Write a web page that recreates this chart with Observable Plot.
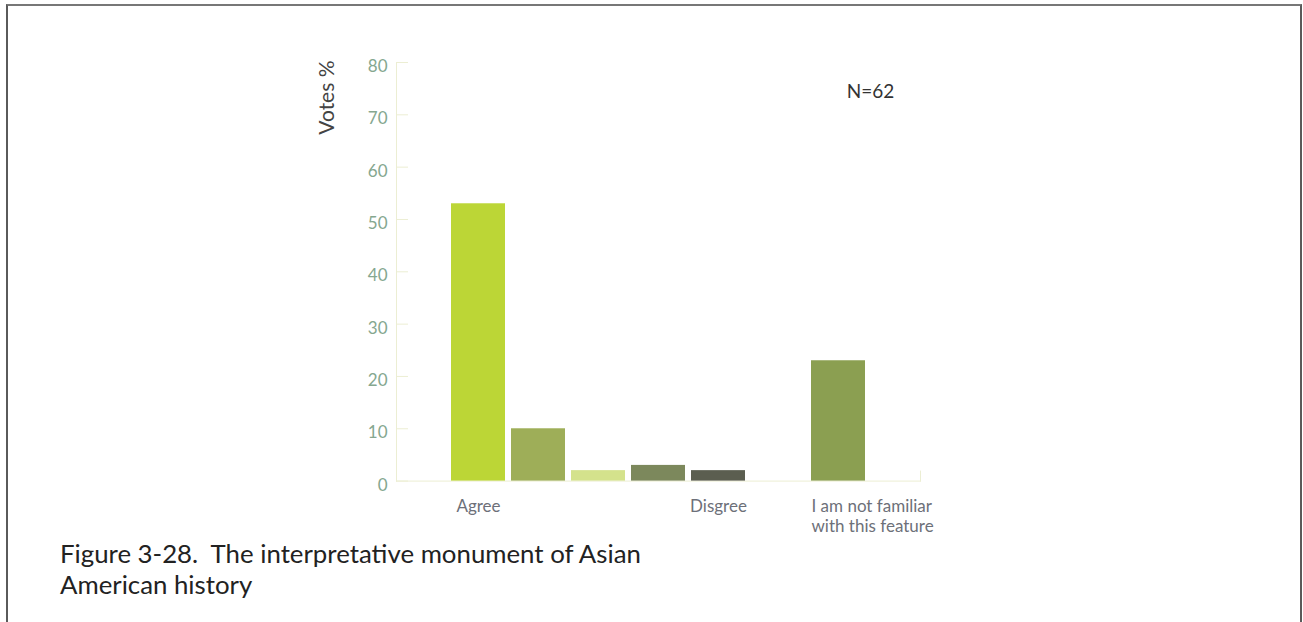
<!DOCTYPE html>
<html>
<head>
<meta charset="utf-8">
<script src="https://cdn.jsdelivr.net/npm/d3@7"></script>
<script src="https://cdn.jsdelivr.net/npm/@observablehq/plot@0.6"></script>
<style>
  html, body { margin: 0; padding: 0; background: #fff; }
  #page { position: relative; width: 1303px; height: 622px; overflow: hidden; font-family: Lato, "Open Sans", sans-serif; }
  #border { position: absolute; left: 6px; top: 4px; width: 1292px; height: 640px; border: 2px solid #5a5a5a; border-top-color: #777; box-sizing: content-box; }
  #chart { position: absolute; left: 0; top: 0; }
  #caption { position: absolute; left: 60px; top: 538px; font-size: 25.8px; line-height: 31px; color: #222; white-space: pre; }
</style>
</head>
<body>
<div id="page">
  <div id="border"></div>
  <div id="chart"></div>
  <div id="caption">Figure 3-28.  The interpretative monument of Asian
American history</div>
</div>
<script>
const categories = ["agree", "agree2", "neutral", "disagree2", "disagree", "blank", "unfamiliar"];
const values = [53, 10, 2, 3, 2, 0, 23];
const barColors = ["#bcd636", "#9eae58", "#d4e28c", "#7c885c", "#5b5e50", "#ffffff", "#8b9f51"];
const xLabels = ["Agree", "", "", "", "Disgree", "", "I am not familiar\nwith this feature"];
const yTicks = [0, 10, 20, 30, 40, 50, 60, 70, 80];
const yLabel = "Votes %";
const note = "N=62";

const data = categories.map((c, i) => ({cat: c, value: values[i], label: xLabels[i]}));

const axisColor = "#eceed3";
const H = 545;
const MT = 62, MB = H - 480.6;
const chart = Plot.plot({
  width: 1303,
  height: H,
  marginLeft: 396,
  marginRight: 383,
  marginTop: MT,
  marginBottom: MB,
  style: {fontFamily: "Lato, 'Open Sans', sans-serif", background: "transparent"},
  x: {domain: categories, paddingInner: 0.1, paddingOuter: 0.9167, round: false, axis: null},
  y: {domain: [0, 80], axis: null},
  color: {domain: categories, range: barColors},
  marks: [
    Plot.frame({anchor: "left", stroke: axisColor}),
    Plot.frame({anchor: "bottom", stroke: axisColor}),
    Plot.frame({anchor: "right", stroke: axisColor, insetTop: H - MT - MB - 10}),
    Plot.axisY({ticks: yTicks, tickSize: 12, dx: 12, tickFormat: () => "", stroke: axisColor, label: null}),
    Plot.axisY({ticks: yTicks, tickSize: 0, tickPadding: 9, dy: 4, fill: "#85a78f", fontSize: 17, label: null}),
    Plot.barY(data, {x: "cat", y: "value", fill: "cat"}),
    Plot.text(data.filter((d, i) => i < 6 && d.label), {x: "cat", y: 0, text: "label", lineAnchor: "top", dy: 18.5, fontSize: 17, fill: "#6d7079"}),
    Plot.text(data.filter((d, i) => i === 6), {x: "cat", y: 0, text: "label", lineAnchor: "top", textAnchor: "start", dx: -27, dy: 17.5, lineHeight: 1.15, fontSize: 17, fill: "#6d7079"}),
    Plot.text([yLabel], {frameAnchor: "top-left", text: d => d, rotate: -90, textAnchor: "end", lineAnchor: "middle", dx: -69, dy: -2, fontSize: 21, fill: "#444"}),
    Plot.text([note], {frameAnchor: "top-right", text: d => d, textAnchor: "middle", lineAnchor: "bottom", dx: -50, dy: 35.3, fontSize: 19, fill: "#333"})
  ]
});
document.getElementById("chart").appendChild(chart);
</script>
</body>
</html>
